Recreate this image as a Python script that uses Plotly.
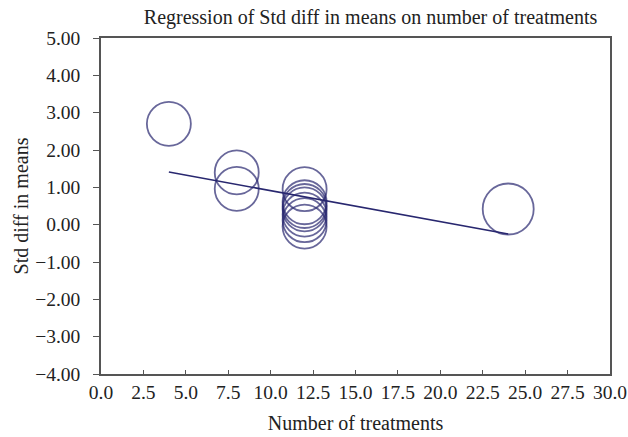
import plotly.graph_objects as go

# Study-level data (number of treatments vs std diff in means)
treatments = [4, 8, 8, 12, 12, 12, 12, 12, 12, 12, 24]
std_diff = [2.70, 1.40, 0.96, 0.95, 0.60, 0.50, 0.41, 0.27, 0.12, -0.05, 0.42]
marker_sizes = [44, 44, 44, 44, 44, 44, 44, 44, 44, 44, 51]

# Regression line endpoints
reg_x = [4, 24]
reg_y = [1.41, -0.25]

x_ticks = [0, 2.5, 5, 7.5, 10, 12.5, 15, 17.5, 20, 22.5, 25, 27.5, 30]
y_ticks = [5, 4, 3, 2, 1, 0, -1, -2, -3, -4]

navy = "#28276f"
font_family = "Liberation Serif, Times New Roman, serif"

fig = go.Figure()
fig.add_trace(go.Scatter(
    x=reg_x, y=reg_y, mode="lines",
    line=dict(color=navy, width=1.6), hoverinfo="skip", showlegend=False,
))
fig.add_trace(go.Scatter(
    x=treatments, y=std_diff, mode="markers",
    marker=dict(symbol="circle-open", size=marker_sizes, color=navy,
                line=dict(color=navy, width=1.8)),
    showlegend=False,
))

fig.update_layout(
    width=628, height=437,
    margin=dict(l=101, r=18, t=38, b=63, autoexpand=False),
    paper_bgcolor="white", plot_bgcolor="white",
    font=dict(family=font_family, size=19.5, color="#222"),
    title=dict(text="Regression of Std diff in means on number of treatments",
               x=0.59, xanchor="center", y=0.96, yanchor="middle",
               font=dict(size=20, family=font_family, color="#222")),
)
fig.update_xaxes(
    range=[0, 30], tickvals=x_ticks, tickformat=".1f", automargin=False,
    showline=True, linecolor="#555", linewidth=1.5, mirror=True,
    ticks="inside", ticklen=4, tickcolor="#555",
    showgrid=False, zeroline=False,
    title=dict(text="Number of treatments", standoff=14, font=dict(size=20)),
)
fig.update_yaxes(
    range=[-4, 5], tickvals=y_ticks, tickformat=".2f", automargin=False,
    showline=True, linecolor="#555", linewidth=1.5, mirror=True,
    ticks="outside", ticklen=6, tickcolor="#555", ticklabelstandoff=9,
    showgrid=False, zeroline=False,
    title=dict(text="Std diff in means", standoff=1, font=dict(size=20)),
)

fig.write_html("out.html", config={"displayModeBar": False},
               post_script="document.body.style.margin='0';")
